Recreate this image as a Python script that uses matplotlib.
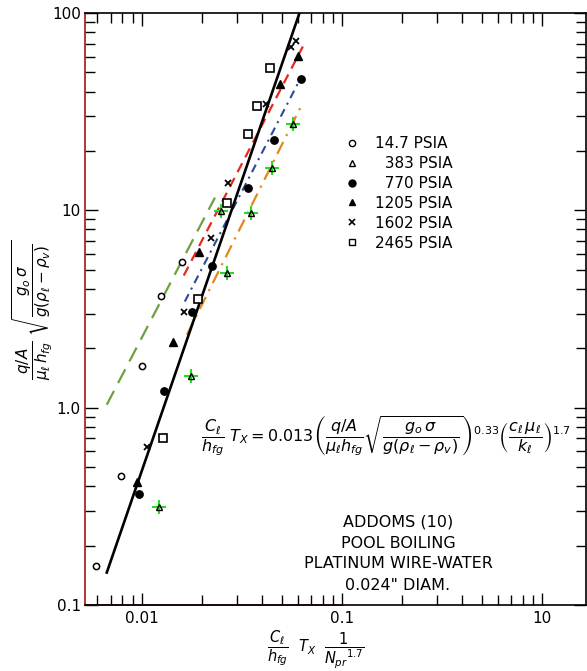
import numpy as np
import matplotlib
matplotlib.use("Agg")
import matplotlib.pyplot as plt
from matplotlib.ticker import FixedLocator, FixedFormatter, LogLocator, NullFormatter
from matplotlib.lines import Line2D

# points (x = Cl/hfg Tx / Npr^1.7, y = heat flux group)
p147_x = [0.00589, 0.00785, 0.0100, 0.01245, 0.01585]
p147_y = [0.158, 0.452, 1.63, 3.70, 5.50]

p383_x = [0.01216, 0.0176, 0.0266, 0.0248, 0.0351, 0.0447, 0.0569]
p383_y = [0.315, 1.45, 4.83, 9.96, 9.73, 16.3, 27.5]

p770_x = [0.00966, 0.0129, 0.0178, 0.0224, 0.0339, 0.0457, 0.0624]
p770_y = [0.366, 1.22, 3.07, 5.24, 13.0, 22.8, 46.5]

p1205_x = [0.00944, 0.0143, 0.0193, 0.0490, 0.0603]
p1205_y = [0.422, 2.14, 6.18, 43.9, 60.8]

p1602_x = [0.0106, 0.0162, 0.0221, 0.0269, 0.0417, 0.0556, 0.0589]
p1602_y = [0.634, 3.07, 7.27, 13.8, 34.7, 67.6, 72.4]

p2465_x = [0.0127, 0.0191, 0.0266, 0.0339, 0.0376, 0.0437]
p2465_y = [0.705, 3.57, 10.9, 24.5, 33.9, 52.9]

# correlation lines (end points)
fit_x = [0.00668, 0.0614]
fit_y = [0.146, 100]
green_x = [0.00668, 0.0232]
green_y = [1.035, 11.6]
red_x = [0.0162, 0.0638]
red_y = [4.67, 67.6]
blue_x = [0.0164, 0.0617]
blue_y = [3.45, 46.0]
orange_x = [0.0168, 0.0638]
orange_y = [2.34, 35.1]

legend_labels = ["14.7 PSIA", "\u2007383 PSIA", "\u2007770 PSIA",
                 "1205 PSIA", "1602 PSIA", "2465 PSIA"]
x_ticks = [0.01, 0.1, 1.0]
x_ticklabels = ["0.01", "0.1", "10"]
y_ticks = [0.1, 1.0, 10, 100]
y_ticklabels = ["0.1", "1.0", "10", "100"]

W, H = 587, 671
plt.rcParams['font.family'] = ['DejaVu Sans']
fig = plt.figure(figsize=(W / 100, H / 100), dpi=100)
ax = fig.add_axes([85 / W, (H - 605) / H, (586 - 85) / W, (605 - 13) / H])
ax.set_xscale('log')
ax.set_yscale('log')
ax.set_xlim(0.0052, 1.66)
ax.set_ylim(0.1, 100)

ax.plot(green_x, green_y, color='#6fa040', lw=1.6, dashes=(7, 4))
ax.plot(red_x, red_y, color='#e8281e', lw=1.6, dashes=(4.5, 3))
ax.plot(blue_x, blue_y, color='#2b4a98', lw=1.5, dashes=(4, 2.5, 1, 2.5))
ax.plot(orange_x, orange_y, color='#e0891c', lw=1.6, dashes=(6, 3, 1, 3))
ax.plot(fit_x, fit_y, color='black', lw=1.9)

ax.plot(p147_x, p147_y, 'o', ms=4.5, mfc='white', mec='black', mew=1.1, ls='none')
ax.plot(p383_x, p383_y, '+', ms=10, color='#22dd22', mew=1.5, ls='none')
ax.plot(p383_x, p383_y, '^', ms=4.5, mfc='none', mec='black', mew=1.0, ls='none')
ax.plot(p770_x, p770_y, 'o', ms=5.3, color='black', ls='none')
ax.plot(p1205_x, p1205_y, '^', ms=5.5, color='black', ls='none')
ax.plot(p1602_x, p1602_y, 'x', ms=5, color='black', mew=1.3, ls='none')
ax.plot(p2465_x, p2465_y, 's', ms=5.5, mfc='white', mec='black', mew=1.2, ls='none')

handles = [
    Line2D([], [], marker='o', ms=4.5, mfc='white', mec='black', mew=1.0, ls='none'),
    Line2D([], [], marker='^', ms=4.5, mfc='white', mec='black', mew=1.0, ls='none'),
    Line2D([], [], marker='o', ms=5, color='black', ls='none'),
    Line2D([], [], marker='^', ms=5, color='black', ls='none'),
    Line2D([], [], marker='x', ms=5, color='black', mew=1.2, ls='none'),
    Line2D([], [], marker='s', ms=5, mfc='white', mec='black', mew=1.0, ls='none'),
]
ax.legend(handles, legend_labels, loc='upper left', bbox_to_anchor=(0.505, 0.805),
          frameon=False, fontsize=11, handlelength=0.8, handletextpad=1.1,
          labelspacing=0.32, borderpad=0)

# axes / ticks
ax.xaxis.set_major_locator(FixedLocator(x_ticks))
ax.xaxis.set_major_formatter(FixedFormatter(x_ticklabels))
ax.yaxis.set_major_locator(FixedLocator(y_ticks))
ax.yaxis.set_major_formatter(FixedFormatter(y_ticklabels))
ax.xaxis.set_minor_locator(LogLocator(base=10, subs=np.arange(2, 10)))
ax.yaxis.set_minor_locator(LogLocator(base=10, subs=np.arange(2, 10)))
ax.xaxis.set_minor_formatter(NullFormatter())
ax.yaxis.set_minor_formatter(NullFormatter())
ax.tick_params(which='both', direction='in', top=True, right=True, width=1.0)
ax.tick_params(which='major', length=9, labelsize=11, pad=4)
ax.tick_params(which='minor', length=7)
ax.tick_params(axis='y', which='major', pad=3)
for s in ax.spines.values():
    s.set_linewidth(1.2)
ax.spines['left'].set_color('#a01818')
# scanned red stretch of the bottom axis
lo, hi = np.log10(ax.get_xlim())
ax.axhline(ax.get_ylim()[0], xmin=0, xmax=(np.log10(0.1) - lo) / (hi - lo),
           color='#c02020', lw=1.2, clip_on=False)

# labels and annotations
fig.text(33 / W, 1 - 310 / H,
         r'$\dfrac{q/A}{\mu_\ell\, h_{fg}}\ \sqrt{\dfrac{g_o\,\sigma}{g(\rho_\ell-\rho_v)}}$',
         rotation=90, ha='center', va='center', fontsize=11)
fig.text(316 / W, 1 - 650 / H,
         r'$\dfrac{C_\ell}{h_{fg}}\ \ T_X\ \ \dfrac{1}{N_{pr}{}^{1.7}}$',
         ha='center', va='center', fontsize=10.5)
fig.text(386 / W, 1 - 436 / H,
         r'$\dfrac{C_\ell}{h_{fg}}\ T_X = 0.013\left(\dfrac{q/A}{\mu_\ell h_{fg}}'
         r'\sqrt{\dfrac{g_o\,\sigma}{g(\rho_\ell-\rho_v)}}\right)^{0.33}'
         r'\left(\dfrac{c_\ell\,\mu_\ell}{k_\ell}\right)^{1.7}$',
         ha='center', va='center', fontsize=11.5)

note = ["ADDOMS (10)", "POOL BOILING", "PLATINUM WIRE-WATER", '0.024" DIAM.']
for i, line in enumerate(note):
    fig.text(398 / W, 1 - (522 + 21 * i) / H, line, ha='center', va='center',
             fontsize=11.5)

fig.savefig('out.png', dpi=100)
